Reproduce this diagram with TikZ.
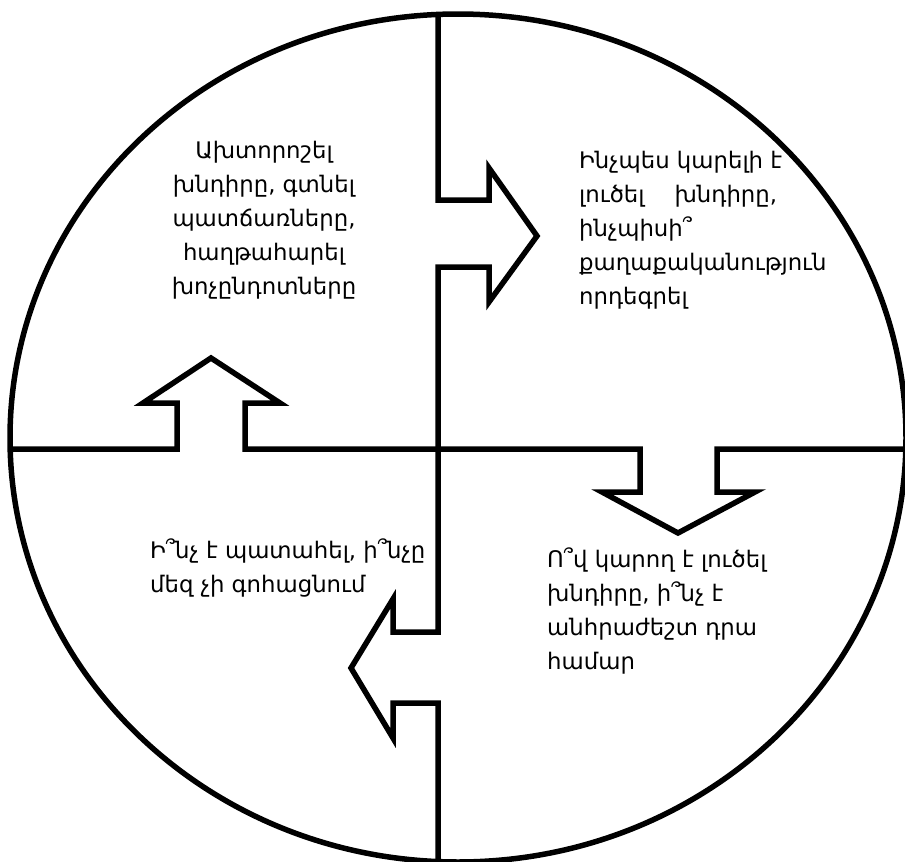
\documentclass[tikz,border=0pt]{standalone}
\usepackage{fontspec}
\newfontfamily\armfont{DejaVu Sans}
\begin{document}
\begin{tikzpicture}[x=1pt,y=-1pt,
  shape line/.style={line width=5.5pt, line join=miter, draw=black},
  lbl/.style={inner sep=0pt, font=\armfont\fontsize{22.8}{34}\selectfont}]
\useasboundingbox (0,0) rectangle (905,862);
% circle
\draw[shape line] (458,438) ellipse [x radius=448, y radius=424];
% horizontal line with up and down arrows
\draw[shape line] (10,449) -- (177,449) -- (177,403) -- (143,403) -- (211,358) -- (280,403) -- (245,403) -- (245,449)
  -- (640,449) -- (640,492) -- (602,492) -- (678,533) -- (755,492) -- (717,492) -- (717,449) -- (905,449);
% vertical line with right and left arrows
\draw[shape line] (438,14) -- (438,200) -- (489,200) -- (489,168) -- (537,236) -- (489,302) -- (489,267) -- (438,267)
  -- (438,632) -- (393,632) -- (393,599) -- (351,668) -- (393,738) -- (393,703) -- (438,703) -- (438,862);
% texts
\node[lbl, align=center] (tl) at (264,220) {Ախտորոշել\\խնդիրը, գտնել\\պատճառները,\\հաղթահարել\\խոչընդոտները};
\node[lbl, align=left, anchor=west] (tr) at (579,230) {Ինչպես կարելի է\\լուծել\hspace{1em} խնդիրը,\\ինչպիսի՞\\քաղաքականություն\\որդեգրել};
\node[lbl, align=left, anchor=west] (bl) at (150,568) {Ի՞նչ է պատահել, ի՞նչը\\մեզ չի գոհացնում};
\node[lbl, align=left, anchor=west] (br) at (547,611) {Ո՞վ կարող է լուծել\\խնդիրը, ի՞նչ է\\անհրաժեշտ դրա\\համար};
\end{tikzpicture}
\end{document}
